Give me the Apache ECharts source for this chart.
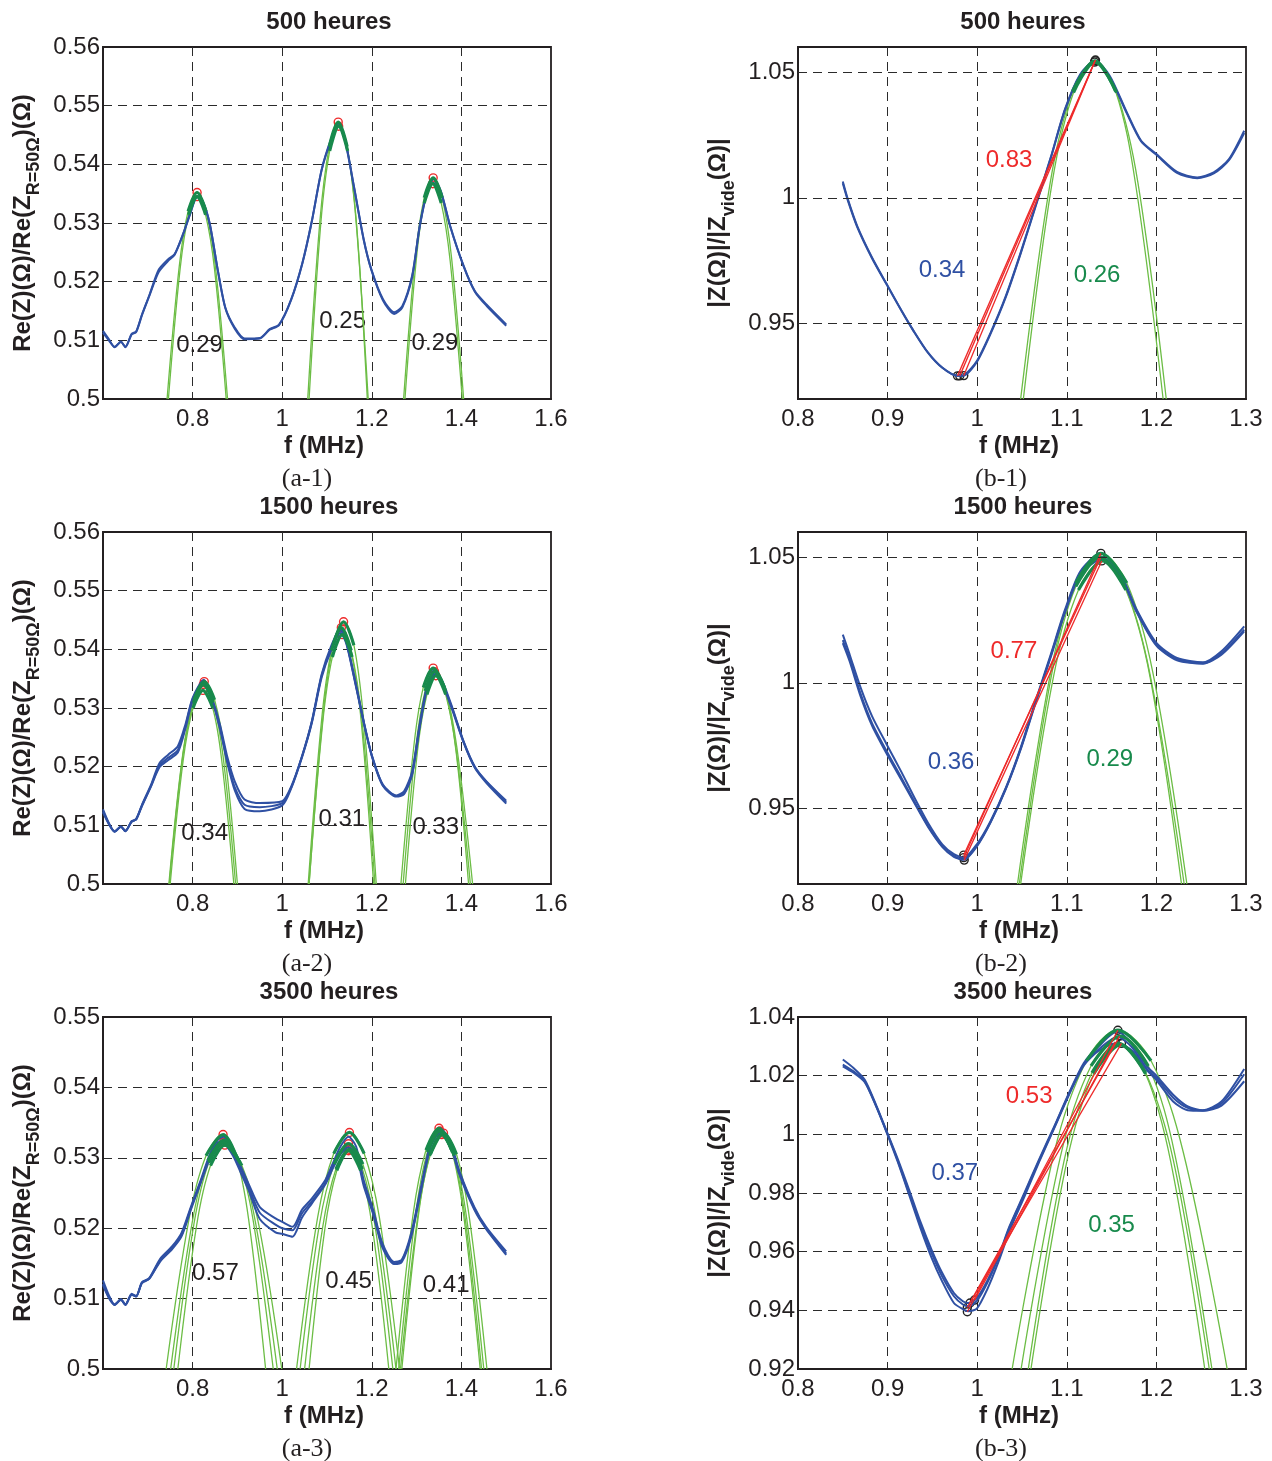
<!DOCTYPE html>
<html>
<head>
<meta charset="utf-8">
<title>Impedance</title>
<script src="https://cdn.jsdelivr.net/npm/echarts@6/dist/echarts.min.js"></script>
<style>
html, body { margin: 0; padding: 0; background: #fff; }
#main { width: 1272px; height: 1461px; }
</style>
</head>
<body>
<div id="main"></div>
<script>
"use strict";

var titles = ['500 heures', '1500 heures', '3500 heures'];
var captionsA = ['(a-1)', '(a-2)', '(a-3)'];
var captionsB = ['(b-1)', '(b-2)', '(b-3)'];

// Re(Z) curves, 500 h
var a1Freq = [.6,.613,.626,.64,.65,.664,.674,.687,.703,.724,.745,.76,.78,.794,.81,.822,.838,.856,.873,.894,.916,.95,.972,.993,1.02,1.045,1.066,1.088,1.109,1.125,1.14,1.16,1.182,1.199,1.225,1.25,1.268,1.29,1.307,1.324,1.338,1.354,1.375,1.405,1.43,1.456,1.5];
var a1Re1 = [.5116,.5102,.5088,.5098,.5088,.5111,.5115,.5144,.5176,.522,.5238,.5247,.5284,.5315,.5346,.5338,.53,.5221,.5156,.5122,.5103,.5104,.5119,.5127,.517,.5232,.5303,.5391,.5443,.547,.5443,.5363,.5272,.5221,.517,.5148,.5158,.521,.5295,.5355,.5375,.5355,.5295,.5227,.5184,.5161,.5127];
var a1Re2 = [.5113,.51,.5089,.5097,.5089,.511,.5114,.5143,.5175,.5216,.5235,.5246,.5283,.5314,.5344,.5337,.5299,.522,.5155,.512,.5102,.5103,.5118,.5126,.5169,.5231,.5302,.539,.5441,.5467,.5441,.5362,.5271,.522,.5168,.5145,.5156,.5208,.5294,.5353,.5368,.5353,.5294,.5226,.5183,.5159,.5125];
var a1Fits = [
    [[.743,.5],[.77,.5225],[.79,.532],[.81,.5352],[.83,.532],[.851,.5225],[.878,.5]],
    [[.746,.5],[.772,.5221],[.791,.5314],[.81,.5345],[.829,.5314],[.849,.5221],[.875,.5]],
    [[1.057,.5],[1.084,.5302],[1.105,.543],[1.125,.5472],[1.145,.543],[1.165,.5302],[1.192,.5]],
    [[1.06,.5],[1.086,.5298],[1.106,.5423],[1.126,.5465],[1.146,.5423],[1.166,.5298],[1.19,.5]],
    [[1.271,.5],[1.297,.5241],[1.317,.5343],[1.337,.5377],[1.357,.5343],[1.378,.5241],[1.405,.5]],
    [[1.274,.5],[1.299,.5235],[1.317,.5334],[1.336,.5367],[1.355,.5334],[1.375,.5235],[1.402,.5]]
];
var a1Notes = [[.8156,.5092,'0.29'],[1.135,.5133,'0.25'],[1.341,.5094,'0.29']];

// Re(Z) curves, 1500 h
var a2Freq = [.6,.613,.626,.64,.65,.664,.674,.687,.707,.726,.745,.767,.784,.8,.825,.843,.861,.878,.894,.916,.95,1.0,1.02,1.045,1.066,1.088,1.109,1.13,1.143,1.16,1.182,1.2,1.225,1.255,1.272,1.29,1.307,1.324,1.34,1.358,1.38,1.405,1.43,1.456,1.5];
var a2Re1 = [.5127,.5104,.5089,.5098,.509,.5107,.511,.5135,.5169,.5206,.522,.5235,.5272,.5317,.5348,.5317,.5272,.5215,.5175,.5144,.5138,.5141,.5166,.522,.5277,.5357,.5405,.5436,.5414,.5357,.5277,.522,.5169,.5151,.5158,.5192,.5272,.534,.5365,.5345,.53,.5243,.52,.5175,.5142];
var a2Re2 = [.5124,.5103,.509,.5097,.5091,.5106,.5111,.5134,.5167,.5202,.5215,.5228,.5268,.5315,.5343,.5316,.5268,.5208,.5165,.5135,.5131,.5138,.5164,.5219,.5276,.5355,.54,.5432,.5412,.5355,.5276,.5219,.5168,.515,.5155,.5188,.527,.5337,.536,.5342,.5298,.5242,.5199,.5174,.5139];
var a2Re3 = [.5122,.5102,.5089,.5098,.509,.5107,.511,.5133,.5166,.5199,.5211,.5224,.5265,.5312,.534,.5314,.5265,.5205,.516,.5128,.5124,.5134,.5163,.5218,.5274,.5352,.5398,.5428,.541,.5353,.5275,.5218,.5167,.5149,.5153,.5186,.5268,.5335,.5357,.534,.5296,.5241,.5198,.5172,.5137];
var a2Fits = [
    [[.747,.5],[.778,.5221],[.803,.5314],[.826,.5345],[.849,.5314],[.872,.5221],[.9,.5]],
    [[.748,.5],[.778,.5218],[.802,.5309],[.824,.534],[.846,.5309],[.868,.5218],[.896,.5]],
    [[.75,.5],[.779,.5211],[.801,.53],[.823,.533],[.845,.53],[.865,.5211],[.892,.5]],
    [[1.06,.5],[1.091,.5286],[1.114,.5407],[1.137,.5447],[1.16,.5407],[1.181,.5286],[1.21,.5]],
    [[1.058,.5],[1.088,.528],[1.11,.5398],[1.132,.5437],[1.154,.5398],[1.178,.528],[1.207,.5]],
    [[1.06,.5],[1.09,.5272],[1.112,.5387],[1.134,.5425],[1.156,.5387],[1.177,.5272],[1.204,.5]],
    [[1.265,.5],[1.294,.5236],[1.315,.5335],[1.337,.5368],[1.362,.5335],[1.387,.5236],[1.42,.5]],
    [[1.27,.5],[1.298,.5232],[1.319,.5329],[1.34,.5362],[1.365,.5329],[1.39,.5232],[1.425,.5]],
    [[1.275,.5],[1.302,.5227],[1.323,.5323],[1.343,.5355],[1.365,.5323],[1.388,.5227],[1.416,.5]]
];
var a2Notes = [[.827,.5087,'0.34'],[1.133,.5111,'0.31'],[1.343,.5097,'0.33']];

// Re(Z) curves, 3500 h
var a3Freq = [.6,.613,.626,.64,.65,.664,.674,.687,.703,.728,.754,.775,.796,.818,.839,.856,.869,.891,.908,.925,.95,.985,1.0,1.023,1.044,1.066,1.096,1.113,1.13,1.148,1.165,1.182,1.203,1.224,1.25,1.267,1.288,1.31,1.331,1.352,1.374,1.395,1.429,1.455,1.5];
var a3Re1 = [.5126,.5105,.5091,.5099,.5091,.5107,.5103,.5123,.5129,.5157,.5174,.5193,.523,.5268,.5306,.5325,.533,.5311,.5287,.5263,.523,.5214,.5209,.5202,.5226,.5242,.5268,.5292,.5316,.533,.5316,.5268,.5226,.5178,.5152,.5155,.5193,.5259,.532,.5342,.5325,.5282,.523,.5202,.5167];
var a3Re2 = [.5121,.5102,.5092,.5098,.5092,.5105,.5104,.5122,.5128,.5155,.5172,.519,.5228,.5266,.5303,.5321,.5324,.5306,.5283,.5259,.5222,.5205,.52,.5197,.5221,.5238,.5264,.5288,.5308,.532,.5308,.5264,.5222,.5175,.515,.5154,.519,.5256,.5317,.5338,.5322,.528,.5228,.52,.5164];
var a3Re3 = [.5119,.5101,.5091,.5099,.5091,.5106,.5103,.5123,.5128,.5153,.517,.5188,.5226,.5264,.53,.5318,.532,.5302,.5278,.5254,.5213,.5194,.5192,.5188,.5215,.5235,.5262,.5285,.5305,.5315,.5305,.526,.522,.5172,.5149,.5152,.5188,.5254,.5315,.5335,.532,.5277,.5226,.5199,.5162];
var a3Fits = [
    [[.741,.5],[.792,.5213],[.83,.5303],[.868,.5333],[.897,.5303],[.925,.5213],[.963,.5]],
    [[.751,.5],[.799,.5208],[.834,.5296],[.87,.5325],[.903,.5296],[.936,.5208],[.98,.5]],
    [[.758,.5],[.803,.5206],[.836,.5293],[.87,.5322],[.906,.5293],[.941,.5206],[.989,.5]],
    [[.767,.5],[.809,.5204],[.84,.5289],[.872,.5318],[.91,.5289],[.948,.5204],[.999,.5]],
    [[1.032,.5],[1.079,.5215],[1.115,.5306],[1.15,.5336],[1.183,.5306],[1.217,.5215],[1.262,.5]],
    [[1.04,.5],[1.083,.5205],[1.116,.5291],[1.148,.532],[1.18,.5291],[1.212,.5205],[1.254,.5]],
    [[1.05,.5],[1.09,.52],[1.12,.5284],[1.15,.5312],[1.179,.5284],[1.208,.52],[1.247,.5]],
    [[1.06,.5],[1.095,.5198],[1.122,.5282],[1.148,.531],[1.175,.5282],[1.202,.5198],[1.238,.5]],
    [[1.254,.5],[1.292,.5219],[1.321,.5311],[1.35,.5342],[1.378,.5311],[1.405,.5219],[1.442,.5]],
    [[1.26,.5],[1.297,.5216],[1.324,.5308],[1.352,.5338],[1.38,.5308],[1.408,.5216],[1.445,.5]],
    [[1.264,.5],[1.302,.5214],[1.331,.5305],[1.36,.5335],[1.389,.5305],[1.418,.5214],[1.457,.5]],
    [[1.267,.5],[1.303,.5213],[1.329,.5303],[1.356,.5333],[1.384,.5303],[1.412,.5213],[1.45,.5]]
];
var a3Notes = [[.851,.5136,'0.57'],[1.148,.5124,'0.45'],[1.366,.5119,'0.41']];

// |Z| curves, 500 h
var b1Freq = [.85,.8556,.866,.8826,.899,.9158,.928,.945,.961,.978,.986,.9996,1.015,1.032,1.0485,1.065,1.082,1.098,1.115,1.1315,1.148,1.167,1.183,1.2,1.223,1.2456,1.264,1.281,1.298];
var b1Mod1 = [1.0065,.9995,.9889,.9763,.9657,.955,.9477,.9385,.9325,.9292,.9296,.9351,.9464,.961,.9782,.9968,1.016,1.0353,1.0492,1.0545,1.0485,1.034,1.0227,1.0174,1.0103,1.0081,1.0101,1.0154,1.0267];
var b1Mod2 = [1.0058,.999,.9885,.976,.9655,.9549,.9476,.9384,.9324,.9292,.9294,.9347,.946,.9606,.9778,.9964,1.0157,1.035,1.0488,1.054,1.048,1.0336,1.0224,1.0171,1.0099,1.0078,1.0097,1.015,1.0258];
var b1Fits = [
    [[1.0485,.92],[1.0815,1.0061],[1.1065,1.0424],[1.1315,1.0545],[1.1545,1.0424],[1.1765,1.0061],[1.2075,.92]],
    [[1.0515,.92],[1.0835,1.0058],[1.1075,1.0419],[1.1315,1.054],[1.1555,1.0419],[1.1795,1.0058],[1.211,.92]]
];
var b1Red = [
    [[.978,.9292],[1.1315,1.0545]],
    [[.9805,.9292],[1.131,1.054]],
    [[.985,.9293],[1.132,1.0548]]
];
var b1Notes = [[1.0355,1.0151,'0.83'],[.9607,.9713,'0.34'],[1.1337,.9693,'0.26']];

// |Z| curves, 1500 h
var b2Freq = [.85,.8577,.87,.8826,.899,.9158,.928,.945,.961,.974,.985,.9996,1.015,1.032,1.0485,1.065,1.082,1.098,1.115,1.138,1.1605,1.177,1.2,1.223,1.252,1.2726,1.298];
var b2Mod1 = [1.0192,1.0112,.998,.9868,.9755,.9643,.9557,.9444,.9358,.9319,.9305,.9358,.9451,.9583,.9742,.9927,1.0112,1.0291,1.0443,1.0516,1.043,1.0298,1.0159,1.0099,1.0082,1.0126,1.0225];
var b2Mod2 = [1.017,1.0095,.9955,.984,.9728,.962,.954,.9432,.935,.9312,.9298,.9352,.9447,.958,.9738,.9922,1.0106,1.0284,1.0435,1.0503,1.0424,1.0292,1.0152,1.0093,1.0078,1.0118,1.0212];
var b2Mod3 = [1.0158,1.0085,.9945,.983,.9718,.9612,.9534,.9428,.9348,.9308,.9296,.9349,.9445,.9578,.9735,.9918,1.0102,1.028,1.043,1.049,1.042,1.0288,1.0148,1.009,1.0076,1.0112,1.0205];
var b2Fits = [
    [[1.045,.92],[1.082,1.0042],[1.11,1.0397],[1.138,1.0515],[1.167,1.0397],[1.196,1.0042],[1.234,.92]],
    [[1.047,.92],[1.083,1.0032],[1.11,1.0383],[1.137,1.05],[1.165,1.0383],[1.193,1.0032],[1.231,.92]],
    [[1.0485,.92],[1.085,1.0022],[1.113,1.0369],[1.14,1.0485],[1.166,1.0369],[1.193,1.0022],[1.228,.92]]
];
var b2Red = [
    [[.985,.9305],[1.138,1.0515]],
    [[.985,.9315],[1.138,1.05]],
    [[.9855,.9295],[1.139,1.0485]]
];
var b2Notes = [[1.041,1.0127,'0.77'],[.9708,.9685,'0.36'],[1.148,.9697,'0.29']];

// |Z| curves, 3500 h
var b3Freq = [.85,.862,.8745,.887,.899,.9116,.924,.9365,.949,.961,.974,.984,.99,.9996,1.011,1.0237,1.036,1.0527,1.069,1.086,1.1025,1.119,1.1357,1.1564,1.173,1.1896,1.2,1.2187,1.235,1.2518,1.2726,1.298];
var b3Mod1 = [1.0255,1.0226,1.0186,1.0101,1.001,.9914,.9811,.9703,.9607,.9527,.9459,.9431,.9425,.9442,.9499,.9584,.9686,.98,.9914,1.0027,1.0141,1.0243,1.03,1.0351,1.0306,1.0232,1.02,1.0135,1.0095,1.0082,1.0112,1.0223];
var b3Mod2 = [1.0238,1.0215,1.018,1.0098,1.0008,.9908,.98,.9692,.9596,.9515,.9448,.942,.9414,.9432,.9492,.958,.9682,.9796,.991,1.0024,1.0138,1.0238,1.029,1.0333,1.0296,1.0222,1.0192,1.0125,1.009,1.0081,1.0105,1.0205];
var b3Mod3 = [1.0232,1.021,1.0178,1.0097,1.0006,.9904,.9794,.9682,.958,.9498,.9425,.9404,.9397,.9406,.947,.9565,.967,.9788,.9905,1.0021,1.0135,1.0235,1.0285,1.0311,1.0285,1.0218,1.0185,1.0112,1.0082,1.008,1.0098,1.0181];
var b3Fits = [
    [[1.039,.92],[1.086,.9939],[1.122,1.0251],[1.157,1.0355],[1.194,1.0251],[1.23,.9939],[1.279,.92]],
    [[1.049,.92],[1.093,.9926],[1.127,1.0233],[1.16,1.0335],[1.191,1.0233],[1.221,.9926],[1.262,.92]],
    [[1.057,.92],[1.097,.991],[1.128,1.021],[1.158,1.031],[1.188,1.021],[1.219,.991],[1.259,.92]],
    [[1.06,.92],[1.1,.9907],[1.13,1.0206],[1.16,1.0305],[1.188,1.0206],[1.216,.9907],[1.254,.92]]
];
var b3Red = [
    [[.989,.9395],[1.157,1.0355]],
    [[.989,.941],[1.159,1.0335]],
    [[.992,.9425],[1.161,1.031]],
    [[.997,.9435],[1.154,1.0315]]
];
var b3Notes = [[1.058,1.0131,'0.53'],[.975,.9868,'0.37'],[1.15,.9691,'0.35']];

var yTicksBTop = [.95, 1, 1.05];

var BLUE = '#2f50a3';
var LIGHT_GREEN = '#6cbd45';
var DARK_GREEN = '#188a4c';
var RED = '#ee2a2a';
var INK = '#231f20';
var FONT = '"Liberation Sans", Arial, sans-serif';

var panels = [
    { kind: 'a', row: 0, freq: a1Freq, curves: [a1Re1, a1Re2], fits: a1Fits, notes: a1Notes, yMin: .5, yMax: .56, yStep: .01 },
    { kind: 'a', row: 1, freq: a2Freq, curves: [a2Re1, a2Re2, a2Re3], fits: a2Fits, notes: a2Notes, yMin: .5, yMax: .56, yStep: .01 },
    { kind: 'a', row: 2, freq: a3Freq, curves: [a3Re1, a3Re2, a3Re3], fits: a3Fits, notes: a3Notes, yMin: .5, yMax: .55, yStep: .01 },
    { kind: 'b', row: 0, freq: b1Freq, curves: [b1Mod1, b1Mod2], fits: b1Fits, red: b1Red, notes: b1Notes, yMin: .92, yMax: 1.06, yTicks: yTicksBTop },
    { kind: 'b', row: 1, freq: b2Freq, curves: [b2Mod1, b2Mod2, b2Mod3], fits: b2Fits, red: b2Red, notes: b2Notes, yMin: .92, yMax: 1.06, yTicks: yTicksBTop },
    { kind: 'b', row: 2, freq: b3Freq, curves: [b3Mod1, b3Mod2, b3Mod3], fits: b3Fits, red: b3Red, notes: b3Notes, yMin: .92, yMax: 1.04, yStep: .02 }
];

var rowTops = [47, 532, 1017];
var noteColorsB = [RED, BLUE, DARK_GREEN];
var dashed = { color: '#2b2b2b', width: 1, type: [9, 6] };

var grids = [], xAxes = [], yAxes = [], series = [], titleList = [];

function zip(xs, ys) {
    return xs.map(function (x, i) { return [x, ys[i]]; });
}

function addLine(idx, data, color, width, smooth) {
    series.push({
        type: 'line', xAxisIndex: idx, yAxisIndex: idx, data: data, showSymbol: false, silent: true,
        smooth: smooth, lineStyle: { color: color, width: width }
    });
}

panels.forEach(function (p, idx) {
    var isA = p.kind === 'a';
    var left = isA ? 103 : 798;
    grids.push({ left: left, top: rowTops[p.row], width: 448, height: 352, show: true, borderColor: INK, borderWidth: 1.8, backgroundColor: '#fff' });

    xAxes.push({
        type: 'value', gridIndex: idx,
        min: isA ? .6 : .8, max: isA ? 1.6 : 1.3, interval: isA ? .2 : .1,
        name: 'f (MHz)', nameLocation: 'middle', nameGap: 35,
        nameTextStyle: { fontFamily: FONT, fontSize: 24, fontWeight: 'bold', color: INK, padding: [0, 6, 0, 0] },
        axisLine: { show: true, lineStyle: { color: INK, width: 1.8 } },
        axisTick: { show: false },
        axisLabel: { showMinLabel: !isA, showMaxLabel: true, margin: 8, fontFamily: FONT, fontSize: 24, color: INK },
        splitLine: { show: true, showMinLine: false, showMaxLine: false, lineStyle: dashed }
    });

    var yAxis = {
        type: 'value', gridIndex: idx, min: p.yMin, max: p.yMax,
        name: isA ? '{b|Re(Z)(Ω)/Re(Z}{s|R=50Ω}{b|)(Ω)}' : '{b||Z(Ω)|/|Z}{s|vide}{b|(Ω)|}',
        nameLocation: 'middle', nameGap: 60, nameRotate: 90,
        nameTextStyle: {
            rich: {
                b: { fontFamily: FONT, fontSize: 24, fontWeight: 'bold', color: INK },
                s: { fontFamily: FONT, fontSize: 18, fontWeight: 'bold', color: INK, padding: [22, 0, 0, 0] }
            }
        },
        axisLine: { show: true, lineStyle: { color: INK, width: 1.8 } },
        axisTick: { show: false },
        axisLabel: { margin: 3, fontFamily: FONT, fontSize: 24, color: INK },
        splitLine: { show: !!p.yStep, showMinLine: false, showMaxLine: false, lineStyle: dashed }
    };
    if (p.yStep) {
        yAxis.interval = p.yStep;
    } else {
        yAxis.axisLabel.customValues = p.yTicks;
        yAxis.axisTick.customValues = p.yTicks;
        // these ticks are not a multiple of min, so their grid lines go through a markLine
        series.push({
            type: 'line', xAxisIndex: idx, yAxisIndex: idx, data: [], silent: true,
            markLine: {
                silent: true, symbol: 'none', animation: false, label: { show: false }, lineStyle: dashed,
                data: p.yTicks.map(function (v) { return { yAxis: v }; })
            }
        });
    }
    yAxes.push(yAxis);

    titleList.push({
        text: titles[p.row], left: isA ? 324 : 1018, top: rowTops[p.row] - 42, textAlign: 'center',
        textStyle: { fontFamily: FONT, fontSize: 24, fontWeight: 'bold', color: INK }
    });
    titleList.push({
        text: (isA ? captionsA : captionsB)[p.row], left: isA ? 302 : 996, top: rowTops[p.row] + 414, textAlign: 'center',
        textStyle: { fontFamily: '"Liberation Serif", serif', fontSize: 26, fontWeight: 'normal', color: INK }
    });

    p.fits.forEach(function (fit) {
        addLine(idx, fit, LIGHT_GREEN, 1.3, .35);
    });
    p.curves.forEach(function (c) {
        addLine(idx, zip(p.freq, c), BLUE, 2, .25);
    });
    p.fits.forEach(function (fit) {
        addLine(idx, fit.slice(2, 5), DARK_GREEN, 3.2, .35);
    });

    // fit summits, and the red chords on the |Z| panels
    var tops = p.fits.map(function (fit) { return fit[3]; });
    var ringColor = isA ? RED : '#222';
    if (p.red) {
        p.red.forEach(function (r) { addLine(idx, r, RED, 1.3, false); });
        tops = p.red.map(function (r) { return r[1]; }).concat(p.red.map(function (r) { return r[0]; }));
    }
    series.push({
        type: 'scatter', xAxisIndex: idx, yAxisIndex: idx, data: tops, symbol: 'circle', symbolSize: 8, silent: true,
        itemStyle: { opacity: 1, color: 'rgba(0,0,0,0)', borderColor: ringColor, borderWidth: 1.4 }
    });

    series.push({
        type: 'scatter', xAxisIndex: idx, yAxisIndex: idx, symbolSize: 0, silent: true,
        itemStyle: { opacity: 1 },
        data: p.notes.map(function (n, i) {
            return {
                value: [n[0], n[1]], name: n[2],
                label: { color: isA ? INK : noteColorsB[i] }
            };
        }),
        label: { show: true, position: 'inside', formatter: '{b}', fontFamily: FONT, fontSize: 24 }
    });
});

var myChart = echarts.init(document.getElementById('main'), null, { renderer: 'canvas' });
myChart.setOption({
    animation: false,
    backgroundColor: '#fff',
    title: titleList,
    grid: grids,
    xAxis: xAxes,
    yAxis: yAxes,
    series: series
});
</script>
</body>
</html>
